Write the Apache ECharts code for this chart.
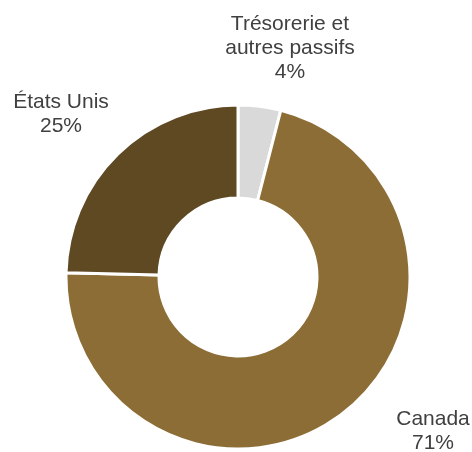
<!DOCTYPE html>
<html>
<head>
<meta charset="utf-8">
<script src="https://cdn.jsdelivr.net/npm/echarts@6/dist/echarts.min.js"></script>
<style>
  html, body { margin: 0; padding: 0; background: #fff; }
  #chart { width: 472px; height: 452px; }
</style>
</head>
<body>
<div id="chart"></div>
<script>
var names = ['Trésorerie et\nautres passifs', 'Canada', 'États Unis'];
var values = [4.0, 71.4, 24.6];
var pctLabels = ['4%', '71%', '25%'];

var colors = ['#d9d9d9', '#8c6d35', '#5e4923'];
// label centre positions (px)
var labelPos = [[290, 48], [433, 431], [61, 114]];

var chart = echarts.init(document.getElementById('chart'));
chart.setOption({
    animation: false,
    backgroundColor: '#ffffff',
    series: [{
        type: 'pie',
        center: [238, 277],
        radius: [79, 172],
        startAngle: 90,
        clockwise: true,
        avoidLabelOverlap: false,
        itemStyle: {
            borderColor: '#ffffff',
            borderWidth: 3
        },
        label: {
            show: true,
            position: 'outside',
            color: '#404040',
            fontFamily: 'Liberation Sans, Arial, sans-serif',
            fontSize: 21,
            lineHeight: 24,
            align: 'center',
            formatter: function (p) {
                return p.name + '\n' + pctLabels[p.dataIndex];
            }
        },
        labelLine: { show: false },
        labelLayout: function (params) {
            var pos = labelPos[params.dataIndex];
            return { x: pos[0], y: pos[1], align: 'center', verticalAlign: 'middle' };
        },
        emphasis: { disabled: true },
        data: names.map(function (n, i) {
            return { name: n, value: values[i], itemStyle: { color: colors[i] } };
        })
    }]
});
</script>
</body>
</html>
